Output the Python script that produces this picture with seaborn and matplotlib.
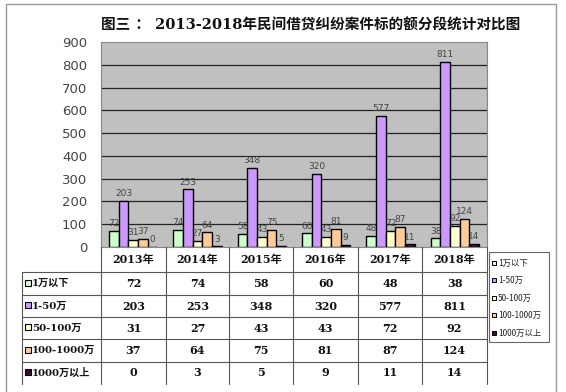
import matplotlib
matplotlib.use("Agg")
import matplotlib.pyplot as plt
from matplotlib.patches import Rectangle
import seaborn as sns
import pandas as pd

years = ["2013年", "2014年", "2015年", "2016年", "2017年", "2018年"]
series = ["1万以下", "1-50万", "50-100万", "100-1000万", "1000万以上"]
v_lt1 = [72, 74, 58, 60, 48, 38]
v_1_50 = [203, 253, 348, 320, 577, 811]
v_50_100 = [31, 27, 43, 43, 72, 92]
v_100_1000 = [37, 64, 75, 81, 87, 124]
v_gt1000 = [0, 3, 5, 9, 11, 14]
colors = ["#CCFFCC", "#CC99FF", "#FFFFCC", "#FFCC99", "#3A0A3A"]

all_vals = [v_lt1, v_1_50, v_50_100, v_100_1000, v_gt1000]
rows = []
for s, vals in zip(series, all_vals):
    for y, v in zip(years, vals):
        rows.append({"year": y, "series": s, "value": v})
df = pd.DataFrame(rows)

sns.set_theme(style="white")
plt.rcParams["font.family"] = ["DejaVu Sans", "Noto Sans CJK SC"]

W, H = 566, 392
fig = plt.figure(figsize=(W / 100, H / 100), dpi=100)
fig.patch.set_facecolor("white")

# plot area pixel geometry
px_l, px_r, px_t, px_b = 101, 487, 42, 247
ax = fig.add_axes([px_l / W, 1 - px_b / H, (px_r - px_l) / W, (px_b - px_t) / H])
ax.set_facecolor("#C0C0C0")
sns.barplot(data=df, x="year", y="value", hue="series", palette=colors,
            width=0.75, edgecolor="black", linewidth=1.0, ax=ax, legend=False,
            saturation=1)
ax.set_ylim(0, 900)
ax.set_yticks(range(0, 901, 100))
ax.set_xlim(-0.5, 5.5)
for yv in range(100, 900, 100):
    ax.axhline(yv, color="#222222", lw=0.9, zorder=0.5)
ax.set_axisbelow(True)
ax.set_xticks([])
ax.set_xlabel("")
ax.set_ylabel("")
ax.tick_params(axis="y", length=0, pad=10, labelsize=9.5, labelcolor="#444444")
for sp in ax.spines.values():
    sp.set_color("#888888")
    sp.set_linewidth(0.8)
for cont, vals in zip(ax.containers, all_vals):
    ax.bar_label(cont, labels=[str(v) for v in vals], padding=2, fontsize=6.5,
                 color="#444444")

# overlay for title, table, legend
ov = fig.add_axes([0, 0, 1, 1], zorder=5)
ov.set_xlim(0, W)
ov.set_ylim(H, 0)
ov.axis("off")
ov.patch.set_alpha(0)

# outer border
ov.add_patch(Rectangle((6, 4), 550, 392, fill=False, ec="#999999", lw=1))

ov.text(311, 25, "图三 ： 2013-2018年民间借贷纠纷案件标的额分段统计对比图",
        ha="center", va="center", fontsize=10.5, fontweight="bold",
        family=["DejaVu Serif", "Noto Sans CJK SC"], color="#111111")

# table
col_x = [101, 166, 229, 293, 358, 422, 487]
lab_l = 22
row_y = [272, 295, 317, 339, 362, 384]
lc = "#555555"
for x in col_x:
    ov.plot([x, x], [247, 384], color=lc, lw=0.8)
ov.plot([lab_l, lab_l], [272, 384], color=lc, lw=0.8)
for y in row_y[:-1]:
    ov.plot([lab_l, col_x[-1]], [y, y], color=lc, lw=0.8)
tfam = ["DejaVu Serif", "Noto Sans CJK SC"]
for i, yr in enumerate(years):
    cx = (col_x[i] + col_x[i + 1]) / 2
    ov.text(cx, 260, yr, ha="center", va="center", fontsize=8,
            fontweight="bold", family=tfam, color="#111111")
for r, (s, vals, c) in enumerate(zip(series, all_vals, colors)):
    cy = (row_y[r] + row_y[r + 1]) / 2
    ov.add_patch(Rectangle((25, cy - 4), 6, 6, fc=c, ec="black", lw=0.8))
    ov.text(32, cy, s, ha="left", va="center", fontsize=7.3, fontweight="bold",
            family=tfam, color="#111111")
    for i, v in enumerate(vals):
        cx = (col_x[i] + col_x[i + 1]) / 2
        ov.text(cx, cy, str(v), ha="center", va="center", fontsize=8,
                fontweight="bold", family=tfam, color="#111111")

# legend
ov.add_patch(Rectangle((489, 252), 60, 90, fill=False, ec="#666666", lw=0.8))
for k, (s, c) in enumerate(zip(series, colors)):
    ly = 263 + k * 17.5
    ov.add_patch(Rectangle((492, ly - 2.5), 4, 4, fc=c, ec="black", lw=0.7))
    ov.text(498, ly, s, ha="left", va="center", fontsize=6,
            family=["Noto Sans CJK SC"], color="#222222")

fig.savefig("out.png", dpi=100)
